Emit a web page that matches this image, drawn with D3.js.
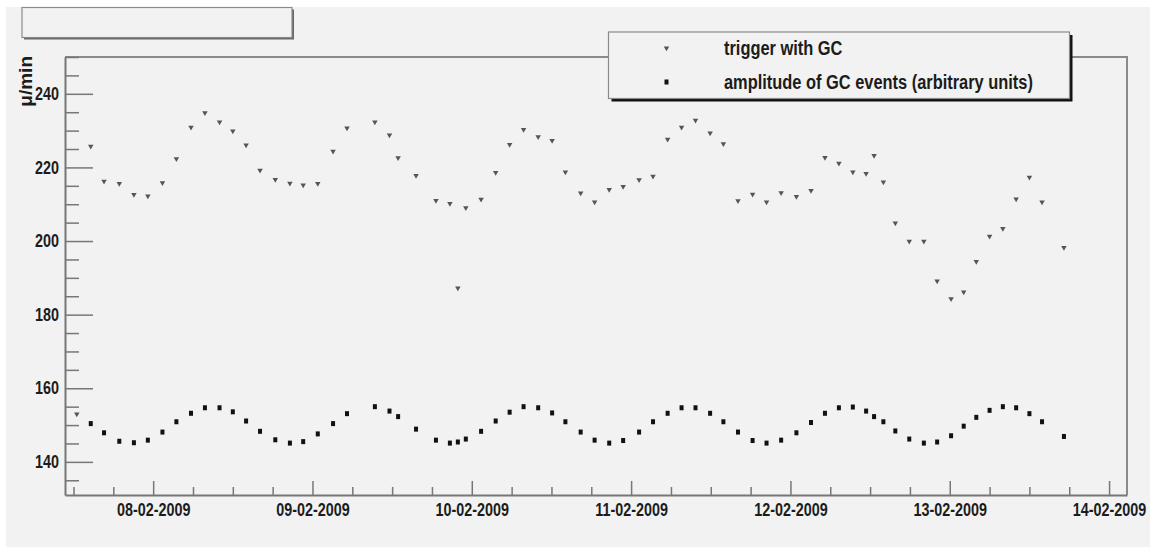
<!DOCTYPE html>
<html lang="en">
<head>
  <meta charset="UTF-8">
  <title>trigger with GC</title>
  <script src="https://cdn.jsdelivr.net/npm/d3@7"></script>
  <style>
    html,
    body {
      margin: 0;
      padding: 0;
      background: #fff;
    }

    svg {
      display: block;
    }

    .lbl {
      font-family: 'Liberation Sans', Arial, Helvetica, sans-serif;
      font-weight: bold;
      fill: #1c1c1c;
    }
  </style>
</head>
<body>
  <svg id="chart" width="1150" height="547"></svg>
  <script>
    //
    // Data
    //

    // sample times, hours after 07-02-2009 00:00
    var hours = [12.5, 14.6, 16.6, 18.9, 21.1, 23.2, 25.4, 27.5, 29.7, 31.8, 34.0, 36.0, 38.0, 40.1, 42.4, 44.6,
      46.6, 48.8, 51.1, 53.2, 57.4, 59.6, 60.9, 63.6, 66.6, 68.7, 69.9, 71.1, 73.4, 75.6, 77.7, 79.8,
      82.0, 84.1, 86.1, 88.4, 90.5, 92.7, 94.8, 97.2, 99.3, 101.5, 103.6, 105.7, 107.9, 109.9, 112.1, 114.3,
      116.4, 118.6, 120.9, 123.1, 125.2, 127.3, 129.4, 131.4, 132.6, 134.0, 135.8, 137.9, 140.1, 142.1, 144.2,
      146.1, 148.0, 150.0, 152.0, 154.0, 156.0, 157.9, 161.2]

    // trigger with GC, mu/min
    var trigger = [153.0, 225.7, 216.2, 215.6, 212.6, 212.2, 215.8, 222.3, 230.9, 234.8, 232.3, 229.9, 226.1, 219.2, 216.7, 215.7,
      215.2, 215.6, 224.4, 230.7, 232.3, 228.8, 222.6, 217.8, 211.0, 210.2, 187.2, 209.0, 211.3, 218.6, 226.2, 230.3,
      228.3, 227.3, 218.7, 213.0, 210.6, 214.0, 214.8, 216.6, 217.6, 227.6, 230.9, 232.8, 229.3, 226.4, 210.9, 212.7,
      210.6, 213.1, 212.1, 213.7, 222.7, 221.1, 218.7, 218.3, 223.2, 216.0, 204.9, 199.9, 199.9, 189.1, 184.3,
      186.1, 194.4, 201.3, 203.4, 211.4, 217.3, 210.6, 198.2]

    // amplitude of GC events (arbitrary units)
    var amplitude = [null, 150.4, 147.9, 145.6, 145.2, 145.9, 148.1, 150.9, 153.2, 154.7, 154.7, 153.6, 151.1, 148.3, 146.0, 145.1,
      145.5, 147.6, 150.4, 153.1, 155.0, 153.8, 152.3, 148.9, 145.9, 145.1, 145.4, 146.2, 148.3, 151.1, 153.5, 155.0,
      154.7, 153.3, 150.9, 148.1, 145.9, 145.1, 145.8, 148.1, 150.9, 153.2, 154.7, 154.7, 153.2, 150.9, 148.1, 145.8,
      145.1, 145.9, 147.9, 150.7, 153.2, 154.7, 154.9, 153.8, 152.3, 150.9, 148.4, 146.2, 145.1, 145.4, 147.1,
      149.7, 152.1, 154.0, 155.0, 154.7, 153.1, 150.9, 146.9]

    var seriesNames = ['trigger with GC', 'amplitude of GC events (arbitrary units)']
    var yMajor = [140, 160, 180, 200, 220, 240]
    var yTitle = 'μ/min'

    //
    // Layout
    //

    var width = 1150
    var height = 547
    var frame = { left: 65, right: 1127, top: 57, bottom: 495 }
    var colorBg = '#f2f2f2'
    var colorAxis = '#777'
    var colorTrig = '#555'
    var colorAmp = '#111'
    // the labels use a condensed bold face; squeeze Liberation Sans to match
    var narrow = 0.82

    var base = Date.UTC(2009, 1, 7)
    function toDate(h) {
      return new Date(base + h * 36e5)
    }

    var svg = d3.select('#chart')

    svg.append('rect')
      .attr('x', 6).attr('y', 7)
      .attr('width', width - 6).attr('height', height - 7)
      .attr('fill', colorBg)

    var x = d3.scaleUtc()
      .domain([toDate(10.72), toDate(170.7)])
      .range([frame.left, frame.right])

    var y = d3.scaleLinear()
      .domain([131, 250])
      .range([frame.bottom, frame.top])

    // frame (top and right sides)
    svg.append('path')
      .attr('d', 'M' + frame.left + ',' + frame.top + 'H' + frame.right + 'V' + frame.bottom)
      .attr('fill', 'none')
      .attr('stroke', '#8a8a8a')
      .attr('stroke-width', 2)

    //
    // Axes
    //

    function styleAxis(g) {
      g.select('.domain').attr('stroke', colorAxis).attr('stroke-width', 2)
      g.selectAll('.tick line').attr('stroke', colorAxis).attr('stroke-width', 1.5)
      g.selectAll('.tick text').attr('class', 'lbl narrow').attr('font-size', 17.5)
    }

    var yMinor = d3.range(135, 251, 5).filter(function (v) { return yMajor.indexOf(v) < 0 })

    svg.append('g')
      .attr('transform', 'translate(' + frame.left + ',0)')
      .call(d3.axisLeft(y).tickValues(yMinor).tickSize(-14).tickFormat(''))
      .call(styleAxis)
      .select('.domain').remove()

    svg.append('g')
      .attr('transform', 'translate(' + frame.left + ',0)')
      .call(d3.axisLeft(y).tickValues(yMajor).tickSizeInner(-28).tickSizeOuter(0).tickPadding(6))
      .call(styleAxis)

    var xMajor = d3.utcDay.range(toDate(24), toDate(169))
    var xMinor = d3.utcHour.every(6).range(toDate(12), toDate(169)).filter(function (d) {
      return d.getUTCHours() !== 0
    })

    svg.append('g')
      .attr('transform', 'translate(0,' + frame.bottom + ')')
      .call(d3.axisBottom(x).tickValues(xMinor).tickSize(-8).tickFormat(''))
      .call(styleAxis)
      .select('.domain').remove()

    svg.append('g')
      .attr('transform', 'translate(0,' + frame.bottom + ')')
      .call(d3.axisBottom(x).tickValues(xMajor).tickSizeInner(-14).tickSizeOuter(0).tickPadding(9)
        .tickFormat(d3.utcFormat('%d-%m-%Y')))
      .call(styleAxis)

    svg.append('text')
      .attr('class', 'lbl')
      .attr('font-size', 19)
      .attr('text-anchor', 'end')
      .attr('transform', 'translate(32,' + (frame.top - 1) + ') rotate(-90)')
      .text(yTitle)

    //
    // Points
    //

    var tri = d3.symbol().type(d3.symbolTriangle).size(13)

    svg.append('g')
      .selectAll('path')
      .data(hours.map(function (h, i) { return [h, trigger[i]] }).filter(function (d) { return d[1] != null }))
      .join('path')
      .attr('d', tri)
      .attr('fill', colorTrig)
      .attr('transform', function (d) {
        return 'translate(' + x(toDate(d[0])) + ',' + y(d[1]) + ') rotate(180)'
      })

    svg.append('g')
      .selectAll('rect')
      .data(hours.map(function (h, i) { return [h, amplitude[i]] }).filter(function (d) { return d[1] != null }))
      .join('rect')
      .attr('x', function (d) { return x(toDate(d[0])) - 2 })
      .attr('y', function (d) { return y(d[1]) - 2.5 })
      .attr('width', 4)
      .attr('height', 5)
      .attr('fill', colorAmp)

    //
    // Title box (empty) and legend
    //

    function box(x0, y0, w, h, shadow, shadowColor) {
      svg.append('rect')
        .attr('x', x0 + shadow).attr('y', y0 + shadow)
        .attr('width', w).attr('height', h)
        .attr('fill', shadowColor)
      svg.append('rect')
        .attr('x', x0).attr('y', y0)
        .attr('width', w).attr('height', h)
        .attr('fill', colorBg)
        .attr('stroke', '#8a8a8a')
        .attr('stroke-width', 1.2)
    }

    box(22, 7.5, 270, 30, 2, '#666')
    box(608.5, 32, 461, 66.5, 3, '#111')

    var legend = svg.append('g').attr('transform', 'translate(608.5,32)')
    seriesNames.forEach(function (name, i) {
      var ly = 16 + i * 34
      if (i === 0) {
        legend.append('path')
          .attr('d', tri)
          .attr('fill', colorTrig)
          .attr('transform', 'translate(58,' + ly + ') rotate(180)')
      } else {
        legend.append('rect')
          .attr('x', 56).attr('y', ly - 2.5)
          .attr('width', 4).attr('height', 5)
          .attr('fill', colorAmp)
      }
      legend.append('text')
        .attr('class', 'lbl narrow')
        .attr('font-size', 20)
        .attr('x', 115.5)
        .attr('y', ly + 6.5)
        .text(name)
    })

    svg.selectAll('.narrow').each(function () {
      var w = this.getComputedTextLength()
      d3.select(this)
        .attr('textLength', w * narrow)
        .attr('lengthAdjust', 'spacingAndGlyphs')
    })
  </script>
</body>
</html>
